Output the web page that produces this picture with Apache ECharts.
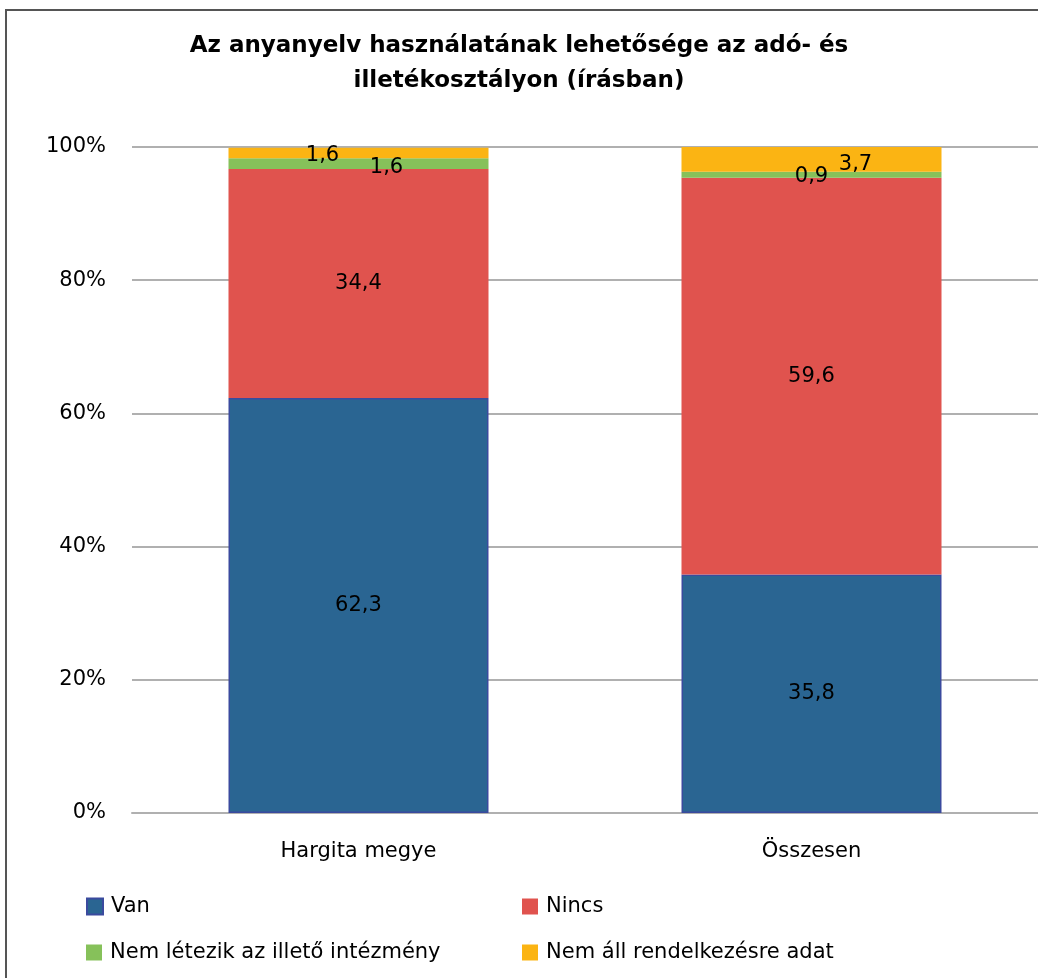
<!DOCTYPE html>
<html><head><meta charset="utf-8">
<script src="https://cdn.jsdelivr.net/npm/echarts@6/dist/echarts.min.js"></script>
<style>html,body{margin:0;padding:0;background:#fff}#c{width:1038px;height:978px}</style>
</head><body><div id="c"></div>
<script>
const categories = ['Hargita megye', 'Összesen'];
const seriesNames = ['Van', 'Nincs', 'Nem létezik az illető intézmény', 'Nem áll rendelkezésre adat'];
const van = [62.3, 35.8];
const nincs = [34.4, 59.6];
const nemLetezik = [1.6, 0.9];
const nemAll = [1.6, 3.7];
const yTicks = ['0%', '20%', '40%', '60%', '80%', '100%'];

const colors = ['#2A6592', '#E0534E', '#86C15A', '#FBB413'];
const font = '"DejaVu Sans", "Noto Sans", sans-serif';
const fmt = v => String(v).replace('.', ',');
const lblOffsets = [
  [[0,0],[0,0]],
  [[0,0],[0,0]],
  [[28,4],[0,2]],
  [[-36,3],[44,5]]
];
const values = [van, nincs, nemLetezik, nemAll];

const series = values.map((arr, si) => ({
  name: seriesNames[si],
  type: 'bar',
  stack: 'total',
  barWidth: 260,
  itemStyle: si === 0 ? {color: colors[0], borderColor: '#3A4A9E', borderWidth: 1.5} : {color: colors[si]},
  data: arr.map((v, i) => ({
    value: v,
    label: {show: true, position: 'inside', offset: lblOffsets[si][i], formatter: p => fmt(p.value),
      color: '#000', fontSize: 21, fontFamily: font}
  }))
}));

const legendPos = [[86, 896], [522, 896], [86, 942], [522, 942]];
const legends = seriesNames.map((n, i) => ({
  data: [n], left: legendPos[i][0], top: legendPos[i][1],
  itemWidth: 16, itemHeight: 16, itemGap: 0, padding: 0,
  icon: 'rect',
  textStyle: {fontSize: 21, fontFamily: font, color: '#000', padding: [0,0,0,3]},
  selectedMode: false
}));

const chart = echarts.init(document.getElementById('c'));
chart.setOption({
  animation: false,
  color: colors,
  title: {
    text: 'Az anyanyelv használatának lehetősége az adó- és\nilletékosztályon (írásban)',
    left: 'center', top: 24,
    textStyle: {fontSize: 23, fontWeight: 'bold', fontFamily: font, color: '#000', lineHeight: 35}
  },
  legend: legends,
  grid: {left: 132, right: 0, top: 147, bottom: 165, containLabel: false},
  xAxis: {
    type: 'category', data: categories,
    axisLine: {show: true, lineStyle: {color: '#B0B0B0', width: 2}},
    axisTick: {show: false},
    axisLabel: {fontSize: 21, fontFamily: font, color: '#000', margin: 28}
  },
  yAxis: {
    type: 'value', min: 0, max: 100, interval: 20,
    axisLine: {show: false}, axisTick: {show: false},
    splitLine: {lineStyle: {color: '#B0B0B0', width: 2}},
    axisLabel: {fontSize: 21, fontFamily: font, color: '#000', margin: 26,
      formatter: v => yTicks[Math.round(v / 20)]}
  },
  graphic: [{
    type: 'rect', shape: {x: 6, y: 10, width: 1100, height: 1100},
    style: {fill: 'none', stroke: '#555', lineWidth: 2}, z: -1, silent: true
  }],
  series: series
});
</script></body></html>
